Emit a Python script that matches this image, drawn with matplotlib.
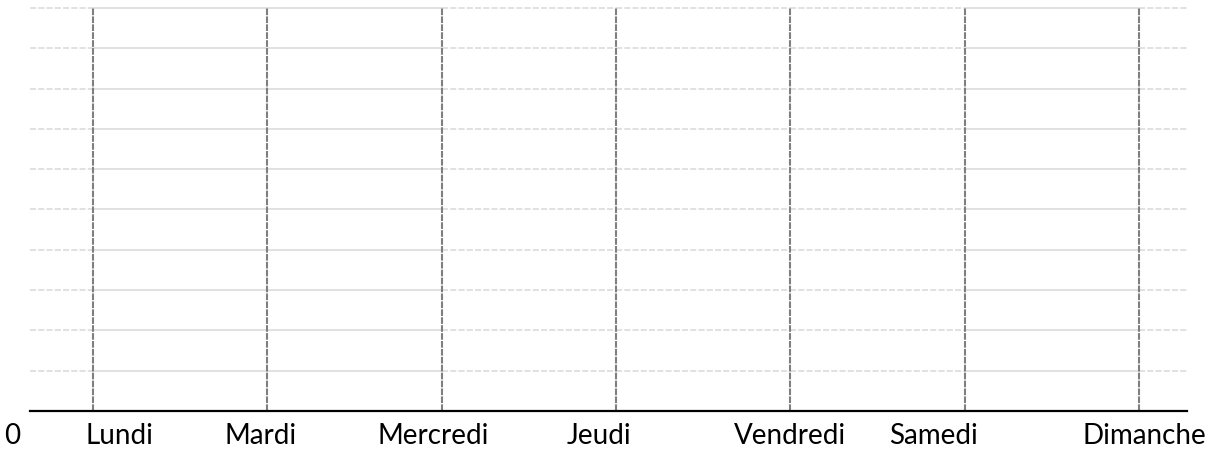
import matplotlib.pyplot as plt

plt.rcParams['font.family'] = ['Lato', 'DejaVu Sans']

days = ['Lundi', 'Mardi', 'Mercredi', 'Jeudi', 'Vendredi', 'Samedi', 'Dimanche']
day_pos = [1, 2, 3, 4, 5, 6, 7]
# label centres sit a little off the day lines in the original
label_pos = [1.15, 1.96, 2.95, 3.90, 5.0, 5.82, 7.03]
levels = [1, 2, 3, 4, 5, 6, 7, 8, 9, 10]
# style of the grid between consecutive day lines (left edge .. right edge)
seg_styles = ['dashed', 'solid', 'solid', 'dashed', 'dashed', 'dashed', 'solid', 'dashed']

x_left, x_right = 0.639, 7.276
GRID = '#d9d9d9'
DAYLINE = '#7f7f7f'

fig = plt.figure(figsize=(12.18, 4.53), dpi=100)
ax = fig.add_axes([30 / 1218, 42 / 453, (1187 - 30) / 1218, (411 - 8) / 453])

edges = [x_left] + day_pos + [x_right]
for i, style in enumerate(seg_styles):
    for y in levels:
        if style == 'solid':
            ax.plot([edges[i], edges[i + 1]], [y, y], color=GRID, lw=1.1,
                    solid_capstyle='butt', clip_on=False, zorder=1)
        else:
            ax.plot([edges[i], edges[i + 1]], [y, y], color=GRID, lw=1.1,
                    dashes=(4.0, 1.4), clip_on=False, zorder=1)

for x in day_pos:
    ax.plot([x, x], [0, levels[-1]], color=DAYLINE, lw=1.5,
            dashes=(3.2, 0.6), clip_on=False, zorder=2)

ax.set_xlim(x_left, x_right)
ax.set_ylim(0, levels[-1])

for s in ['top', 'right', 'left']:
    ax.spines[s].set_visible(False)
ax.spines['bottom'].set_linewidth(1.6)
ax.spines['bottom'].set_color('black')
ax.spines['bottom'].set_zorder(3)
ax.set_yticks([])

ax.set_xticks(label_pos)
ax.set_xticklabels(days, fontsize=20)
ax.tick_params(axis='x', length=0, pad=9)
ax.text(0.535, -0.31, '0', fontsize=20, ha='center', va='top', clip_on=False)

fig.savefig('out.png', dpi=100)
